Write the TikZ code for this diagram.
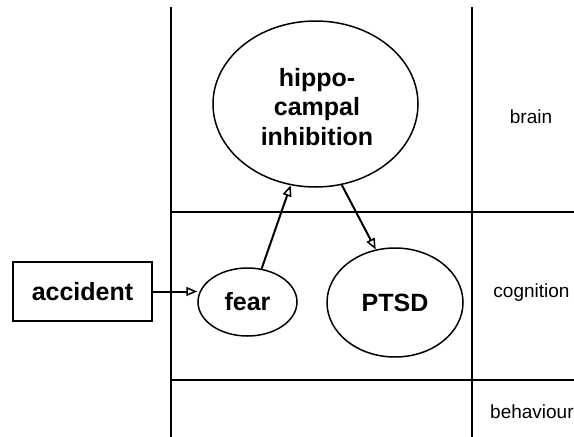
\documentclass[tikz,border=0pt]{standalone}
\usepackage{fontspec}
\setmainfont{Liberation Sans}
\usetikzlibrary{shapes.geometric,arrows.meta}
\begin{document}
\begin{tikzpicture}[x=1pt,y=-1pt,
  grid/.style={line width=2pt},
  oval/.style={ellipse,draw,line width=1.5pt,inner sep=0pt,font=\fontsize{25}{29.5}\selectfont\bfseries,align=center},
  lab/.style={font=\fontsize{19}{22}\selectfont,inner sep=0pt},
  conn/.style={line width=2pt,-{Triangle[open,length=11pt,width=9pt,line width=1.5pt]}}]
\useasboundingbox (0,0) rectangle (574,437);
% grid
\coordinate (lt) at (170.5,7);
\coordinate (lb) at (170.5,437);
\coordinate (rt) at (472,7);
\coordinate (rb) at (472,437);
\coordinate (h1l) at (170.5,212);
\coordinate (h1r) at (574,212);
\coordinate (h2l) at (170.5,380);
\coordinate (h2r) at (574,380);
\draw[grid] (lt) -- (lb);
\draw[grid] (rt) -- (rb);
\draw[grid] (h1l) -- (h1r);
\draw[grid] (h2l) -- (h2r);
% nodes
\node[oval,minimum width=205pt,minimum height=166pt] (hippo) at (315.5,104) {};
\node[font=\fontsize{25}{29.5}\selectfont\bfseries,align=center,inner sep=0pt] (htext) at (317,107) {hippo-\\campal\\inhibition};
\node[oval,minimum width=99pt,minimum height=68pt] (fear) at (247.5,302) {fear};
\node[oval,minimum width=136pt,minimum height=109pt] (ptsd) at (395,302.5) {PTSD};
\node[draw,line width=2pt,minimum width=139pt,minimum height=59pt,inner sep=0pt,font=\fontsize{25}{29.5}\selectfont\bfseries] (acc) at (82.5,291.5) {accident};
% labels
\node[lab] (brain) at (531,117) {brain};
\node[lab] (cog) at (531.5,293) {cognition};
\node[lab,anchor=west] (beh) at (490,412) {behaviour};
% connectors
\draw[conn] (acc.east) -- (fear.west |- acc.east);
\draw[conn] (fear.67) -- (hippo.253);
\draw[conn] (hippo.288) -- (ptsd.110);
\end{tikzpicture}
\end{document}
